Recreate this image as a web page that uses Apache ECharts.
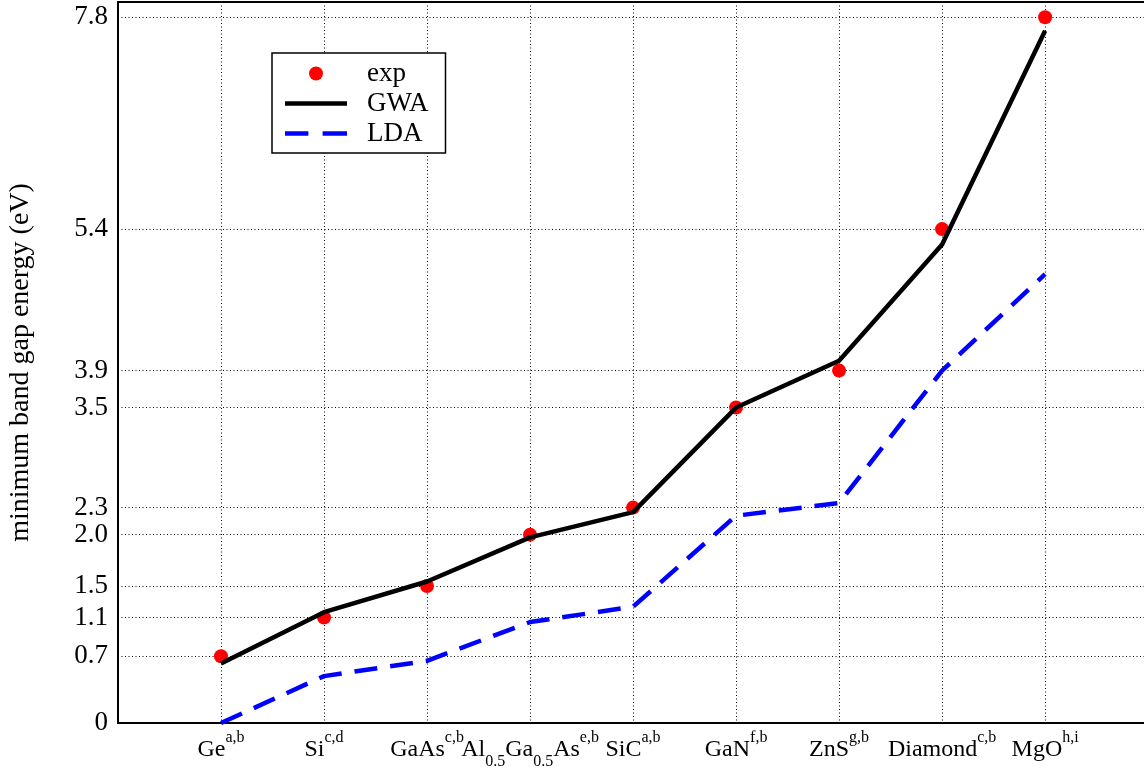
<!DOCTYPE html>
<html>
<head>
<meta charset="utf-8">
<script src="https://cdn.jsdelivr.net/npm/echarts@6/dist/echarts.min.js"></script>
<style>html,body{margin:0;padding:0;background:#fff}#c{width:1144px;height:772px}</style>
</head>
<body>
<div id="c"></div>
<script>
const categories = ['Ge', 'Si', 'GaAs', 'Al0.5Ga0.5As', 'SiC', 'GaN', 'ZnS', 'Diamond', 'MgO'];
const categoryLabels = [
  '{m|Ge}{sup|a,b}',
  '{m|Si}{sup|c,d}',
  '{m|GaAs}{sup|c,b}',
  '{m|Al}{sub|0.5}{m|Ga}{sub|0.5}{m|As}{sup|e,b}',
  '{m|SiC}{sup|a,b}',
  '{m|GaN}{sup|f,b}',
  '{m|ZnS}{sup|g,b}',
  '{m|Diamond}{sup|c,b}',
  '{m|MgO}{sup|h,i}'
];
const expValues = [0.74, 1.17, 1.52, 2.09, 2.39, 3.50, 3.91, 5.48, 7.83];
const gwaValues = [0.66, 1.23, 1.57, 2.06, 2.34, 3.50, 4.02, 5.31, 7.68];
const ldaValues = [0.00, 0.52, 0.69, 1.12, 1.29, 2.30, 2.44, 3.91, 4.98];
const yTickValues = [0, 0.74, 1.17, 1.52, 2.09, 2.39, 3.50, 3.91, 5.48, 7.83];
const yTickLabels = ['0', '0.7', '1.1', '1.5', '2.0', '2.3', '3.5', '3.9', '5.4', '7.8'];

const FONT = '"Liberation Serif", "Times New Roman", serif';
const xPositions = categories.map((c, i) => i + 1);
const toPairs = vals => vals.map((v, i) => [xPositions[i], v]);

const chart = echarts.init(document.getElementById('c'), null, {renderer: 'canvas'});
chart.setOption({
  animation: false,
  backgroundColor: '#fff',
  grid: {left: 118, right: 0, top: 2, bottom: 49, show: false, containLabel: false, outerBoundsMode: 'none'},
  legend: {
    data: [
      {name: 'exp', icon: 'circle'},
      {name: 'GWA', icon: 'path://M0,0H62V4.5H0Z'},
      {name: 'LDA', icon: 'path://M0,0H23V4.5H0Z M37,0H61V4.5H37Z'}
    ],
    orient: 'vertical',
    left: 272, top: 53,
    itemWidth: 62, itemHeight: 14, itemGap: 3,
    padding: [7, 17, 6, 13],
    backgroundColor: '#fff', borderColor: '#000', borderWidth: 1.5, borderRadius: 0,
    textStyle: {fontFamily: FONT, fontSize: 27, color: '#000', lineHeight: 27, padding: [0, 0, 0, 15]}
  },
  xAxis: [{
    type: 'value', min: 0, max: 9.96,
    axisLine: {show: true, lineStyle: {color: '#000', width: 2}},
    axisTick: {show: false, customValues: xPositions},
    splitLine: {show: true, lineStyle: {color: '#000', width: 1, type: [1, 2.5]}},
    axisLabel: {
      customValues: xPositions,
      margin: 7,
      formatter: v => categoryLabels[xPositions.indexOf(v)] || '',
      rich: {
        m: {fontFamily: FONT, fontSize: 24, lineHeight: 40, color: '#000'},
        sup: {fontFamily: FONT, fontSize: 16, lineHeight: 26, verticalAlign: 'top', color: '#000'},
        sub: {fontFamily: FONT, fontSize: 16, lineHeight: 16, verticalAlign: 'bottom', color: '#000'}
      }
    }
  }, {
    type: 'value', min: 0, max: 9.96, position: 'top',
    axisLine: {show: true, lineStyle: {color: '#000', width: 2}},
    axisTick: {show: false}, axisLabel: {show: false}, splitLine: {show: false}
  }],
  yAxis: {
    type: 'value', min: 0, max: 8,
    name: 'minimum band gap energy (eV)',
    nameLocation: 'middle', nameGap: 83,
    nameTextStyle: {fontFamily: FONT, fontSize: 28, color: '#000'},
    axisLine: {show: true, lineStyle: {color: '#000', width: 2}},
    axisTick: {show: false, customValues: yTickValues},
    splitLine: {show: true, lineStyle: {color: '#000', width: 1, type: [1, 2.5]}},
    axisLabel: {
      customValues: yTickValues,
      margin: 10,
      fontFamily: FONT, fontSize: 27, color: '#000',
      formatter: v => yTickLabels[yTickValues.indexOf(v)]
    }
  },
  series: [
    {name: 'exp', type: 'scatter', data: toPairs(expValues), symbol: 'circle', symbolSize: 14,
     itemStyle: {color: '#ff0000', opacity: 1}, z: 2},
    {name: 'GWA', type: 'line', data: toPairs(gwaValues), symbol: 'none', showSymbol: false,
     lineStyle: {color: '#000', width: 4.5}, itemStyle: {color: '#000'}, z: 3},
    {name: 'LDA', type: 'line', data: toPairs(ldaValues), symbol: 'none', showSymbol: false,
     lineStyle: {color: '#0000ff', width: 4.5, type: [23, 13]}, itemStyle: {color: '#0000ff'}, z: 3}
  ]
});
</script>
</body>
</html>
